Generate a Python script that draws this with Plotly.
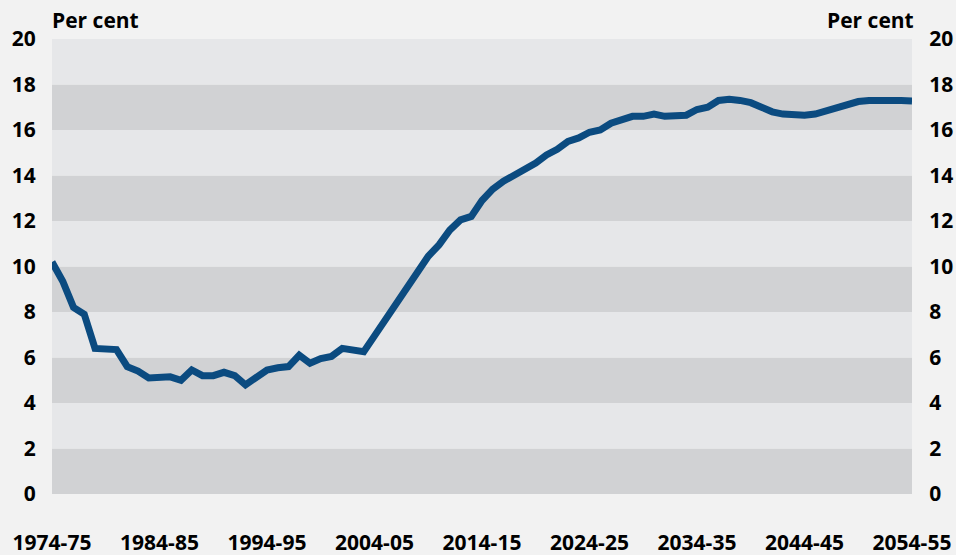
import plotly.graph_objects as go

start_years = list(range(1974, 2055))
values = [10.2, 9.35, 8.2, 7.9, 6.4, 6.35, 6.35, 5.6, 5.4, 5.1,
          5.1, 5.15, 5.0, 5.45, 5.2, 5.2, 5.35, 5.2, 4.8, 5.1,
          5.45, 5.55, 5.6, 6.1, 5.75, 5.95, 6.05, 6.4, 6.35, 6.25,
          6.95, 7.65, 8.4, 9.1, 9.7, 10.45, 10.95, 11.6, 12.05, 12.2,
          12.9, 13.4, 13.75, 14.0, 14.25, 14.55, 14.9, 15.15, 15.5, 15.65,
          15.9, 16.0, 16.3, 16.45, 16.6, 16.6, 16.7, 16.6, 16.65, 16.65,
          16.9, 17.0, 17.3, 17.35, 17.3, 17.2, 17.0, 16.8, 16.7, 16.65,
          16.65, 16.7, 16.85, 17.0, 17.15, 17.25, 17.3, 17.32, 17.32, 17.3,
          17.28]
tick_years = [1974, 1984, 1994, 2004, 2014, 2024, 2034, 2044, 2054]
tick_labels = ["1974-75", "1984-85", "1994-95", "2004-05", "2014-15",
               "2024-25", "2034-35", "2044-45", "2054-55"]
y_ticks = [0, 2, 4, 6, 8, 10, 12, 14, 16, 18, 20]

BG = "#f2f2f2"
DARK = "#d1d2d4"
LIGHT = "#e6e7e9"
LINE = "#0b4b80"
FONT = "Open Sans"

fig = go.Figure()
fig.add_trace(go.Scatter(x=start_years, y=values, mode="lines",
                         line=dict(color=LINE, width=7), hoverinfo="skip",
                         showlegend=False))
fig.add_trace(go.Scatter(x=start_years, y=values, mode="lines", yaxis="y2",
                         line=dict(color="rgba(0,0,0,0)", width=0),
                         hoverinfo="skip", showlegend=False))

shapes = []
for k in range(10):
    shapes.append(dict(type="rect", xref="paper", yref="y", x0=0, x1=1,
                       y0=2 * k, y1=2 * k + 2, line=dict(width=0),
                       fillcolor=DARK if k % 2 == 0 else LIGHT, layer="below"))

tickfont = dict(family=FONT, size=21, color="#000000", weight="bold")

fig.update_layout(
    width=956, height=555,
    margin=dict(l=52, r=44, t=39, b=61, autoexpand=False),
    paper_bgcolor=BG, plot_bgcolor=BG,
    shapes=shapes,
    hovermode=False,
    xaxis=dict(range=[1974, 2054], tickvals=tick_years, ticktext=tick_labels,
               showgrid=False, zeroline=False, showline=False, automargin=False,
               ticks="outside", ticklen=30, tickcolor="rgba(0,0,0,0)",
               tickfont=tickfont),
    yaxis=dict(range=[0, 20], tickvals=y_ticks, showgrid=False, zeroline=False,
               showline=False, ticks="outside", ticklen=11, automargin=False,
               tickcolor="rgba(0,0,0,0)", tickfont=tickfont),
    yaxis2=dict(range=[0, 20], tickvals=y_ticks, overlaying="y", side="right",
                showgrid=False, zeroline=False, showline=False, automargin=False,
                ticks="outside", ticklen=12, tickcolor="rgba(0,0,0,0)",
                tickfont=tickfont),
    annotations=[
        dict(text="Per cent", xref="paper", yref="paper", x=0, y=1,
             xanchor="left", yanchor="bottom", yshift=3, xshift=-2,
             showarrow=False, font=tickfont),
        dict(text="Per cent", xref="paper", yref="paper", x=1, y=1,
             xanchor="right", yanchor="bottom", yshift=3, xshift=4,
             showarrow=False, font=tickfont),
    ],
)

fig.write_html("out.html", config={"displayModeBar": False},
               post_script="document.body.style.margin='0';document.body.style.padding='0';document.body.style.background='#f2f2f2';")
